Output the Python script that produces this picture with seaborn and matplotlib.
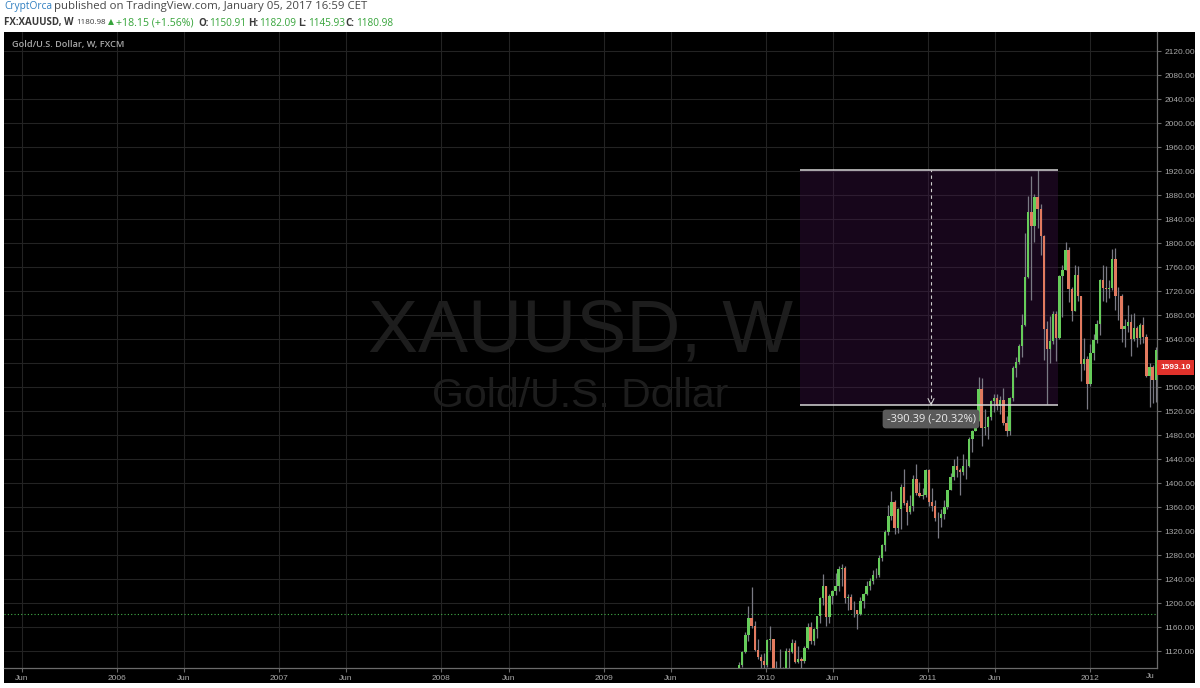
import pandas as pd
import seaborn as sns
import matplotlib.pyplot as plt
import matplotlib.dates as mdates
from matplotlib.patches import Rectangle

# weekly FX:XAUUSD candles, one per week starting 2009-11-02
first_week = '2009-11-02'
opens = [1046, 1096, 1118, 1146, 1175, 1162, 1121, 1110, 1104,
         1096, 1138, 1140, 1090, 1083, 1050, 1092, 1120, 1118, 1134, 1102, 1106, 1104,
         1125, 1160, 1136, 1157, 1179, 1209, 1228, 1176, 1212, 1220, 1228, 1256, 1258,
         1208, 1210, 1189, 1188, 1181, 1204, 1215, 1228, 1237, 1247, 1246, 1275, 1296,
         1318, 1345, 1369, 1325, 1357, 1394, 1366, 1352, 1362, 1406, 1384, 1378, 1380,
         1421, 1369, 1361, 1342, 1341, 1349, 1360, 1388, 1410, 1429, 1421, 1418, 1428,
         1429, 1474, 1486, 1503, 1556, 1491, 1493, 1510, 1536, 1542, 1529, 1539, 1500,
         1486, 1542, 1592, 1601, 1628, 1663, 1743, 1852, 1828, 1876, 1856, 1812, 1657,
         1623, 1636, 1682, 1642, 1745, 1755, 1788, 1724, 1686, 1746, 1711, 1598, 1606,
         1565, 1617, 1639, 1665, 1738, 1725, 1724, 1725, 1774, 1711, 1712, 1656, 1662,
         1669, 1640, 1659, 1642, 1663, 1644, 1579, 1593, 1572]
highs = [1101, 1120, 1152, 1195, 1227, 1170, 1140, 1115, 1116,
         1140, 1162, 1140, 1104, 1123, 1093, 1125, 1125, 1140, 1138, 1128, 1110, 1128,
         1166, 1169, 1158, 1179, 1210, 1249, 1229, 1215, 1221, 1250, 1261, 1265, 1262,
         1215, 1215, 1204, 1189, 1210, 1216, 1236, 1241, 1255, 1259, 1280, 1298, 1321,
         1364, 1387, 1371, 1359, 1398, 1424, 1372, 1380, 1414, 1432, 1401, 1392, 1424,
         1423, 1392, 1372, 1352, 1357, 1371, 1389, 1416, 1440, 1445, 1425, 1448, 1440,
         1476, 1489, 1510, 1577, 1575, 1523, 1512, 1539, 1549, 1549, 1545, 1559, 1512,
         1544, 1595, 1610, 1632, 1681, 1816, 1878, 1912, 1882, 1921, 1865, 1814, 1670,
         1679, 1687, 1686, 1747, 1764, 1802, 1793, 1726, 1764, 1762, 1712, 1641, 1612,
         1631, 1648, 1671, 1740, 1764, 1762, 1739, 1790, 1792, 1726, 1715, 1673, 1696,
         1682, 1683, 1661, 1667, 1676, 1648, 1600, 1597, 1627]
lows = [1043, 1094, 1116, 1137, 1159, 1120, 1107, 1075, 1088,
        1093, 1122, 1085, 1076, 1045, 1045, 1083, 1085, 1116, 1100, 1100, 1088, 1100,
        1123, 1131, 1130, 1141, 1166, 1197, 1161, 1166, 1199, 1213, 1220, 1228, 1200,
        1188, 1190, 1177, 1157, 1180, 1192, 1214, 1221, 1232, 1242, 1243, 1270, 1287,
        1314, 1339, 1315, 1316, 1324, 1363, 1330, 1349, 1353, 1380, 1377, 1374, 1376,
        1362, 1353, 1337, 1309, 1326, 1340, 1356, 1388, 1405, 1410, 1380, 1413, 1406,
        1426, 1452, 1486, 1503, 1462, 1480, 1474, 1505, 1518, 1522, 1515, 1497, 1478,
        1480, 1537, 1577, 1598, 1610, 1661, 1742, 1705, 1801, 1825, 1780, 1605, 1532,
        1600, 1631, 1603, 1640, 1677, 1755, 1702, 1670, 1686, 1703, 1570, 1589, 1523,
        1562, 1605, 1634, 1646, 1704, 1702, 1708, 1722, 1688, 1671, 1635, 1627, 1652,
        1612, 1636, 1627, 1632, 1633, 1577, 1527, 1533, 1535]
closes = [1096, 1118, 1146, 1175, 1162, 1121, 1110, 1104, 1096,
          1138, 1140, 1090, 1083, 1050, 1092, 1120, 1118, 1134, 1102, 1106, 1104, 1125,
          1160, 1136, 1157, 1179, 1209, 1228, 1176, 1212, 1220, 1228, 1256, 1258, 1208,
          1210, 1189, 1188, 1181, 1204, 1215, 1228, 1237, 1247, 1246, 1275, 1296, 1318,
          1345, 1369, 1325, 1357, 1394, 1366, 1352, 1362, 1406, 1384, 1378, 1380, 1421,
          1369, 1361, 1342, 1341, 1349, 1360, 1388, 1410, 1429, 1421, 1418, 1428, 1429,
          1474, 1486, 1503, 1556, 1491, 1493, 1510, 1536, 1542, 1529, 1539, 1500, 1486,
          1542, 1592, 1601, 1628, 1663, 1743, 1852, 1828, 1876, 1856, 1812, 1657, 1623,
          1636, 1682, 1642, 1745, 1755, 1788, 1724, 1686, 1746, 1711, 1598, 1606, 1565,
          1617, 1639, 1665, 1738, 1725, 1724, 1725, 1774, 1711, 1712, 1656, 1662, 1669,
          1640, 1659, 1642, 1663, 1644, 1579, 1593, 1572, 1622]

last_price = 1180.98
marked_price = 1593.10

# price range measurement drawn on the chart
measure_top = 1921.15
measure_bottom = 1530.76
measure_start = '2010-03-18'
measure_end = '2011-10-20'
measure_mid = '2011-01-08'
measure_text = '-390.39 (-20.32%)'

x_tick_dates = ['2005-06-01', '2006-01-01', '2006-06-01', '2007-01-01', '2007-06-01',
                '2008-01-01', '2008-06-01', '2009-01-01', '2009-06-01', '2010-01-01',
                '2010-06-01', '2011-01-01', '2011-06-01', '2012-01-01']
x_tick_labels = ['Jun', '2006', 'Jun', '2007', 'Jun', '2008', 'Jun', '2009', 'Jun',
                 '2010', 'Jun', '2011', 'Jun', '2012']
y_ticks = [1120, 1160, 1200, 1240, 1280, 1320, 1360, 1400, 1440, 1480, 1520, 1560,
           1600, 1640, 1680, 1720, 1760, 1800, 1840, 1880, 1920, 1960, 2000, 2040,
           2080, 2120]

df = pd.DataFrame({'open': opens, 'high': highs, 'low': lows, 'close': closes})
df['date'] = pd.date_range(first_week, periods=len(df), freq='7D')
df['x'] = mdates.date2num(df['date'])

sns.set_theme(style='dark', rc={'axes.facecolor': '#000000',
                                'figure.facecolor': '#ffffff',
                                'grid.color': '#232323',
                                'grid.linewidth': 0.8})
plt.rcParams['font.family'] = ['Open Sans', 'DejaVu Sans']

W, H = 1200, 688
fig = plt.figure(figsize=(12, 6.88), dpi=100)

# dark panel behind plot + axis strips
fig.patches.append(Rectangle((4 / W, 1 - 683 / H), 1191 / W, 651 / H,
                             transform=fig.transFigure, facecolor='#000000',
                             edgecolor='none', zorder=-5))

ax = fig.add_axes([4 / W, 1 - 668 / H, 1153 / W, 636 / H])
ax.set_zorder(2)
ax.set_facecolor('#000000')

# time scale: 2006-01-01 at px 117, 2012-01-01 at px 1090
x06 = mdates.date2num(pd.Timestamp('2006-01-01'))
x12 = mdates.date2num(pd.Timestamp('2012-01-01'))
ppd = (1090 - 117) / (x12 - x06)
ax.set_xlim(x12 - (1090 - 4) / ppd, x12 + (1157 - 1090) / ppd)
ax.set_ylim(1120 - 17 / 0.6, 1120 + 619 / 0.6)

ax.set_xticks(mdates.date2num(pd.to_datetime(x_tick_dates)))
ax.set_xticklabels(x_tick_labels)
ax.yaxis.tick_right()
ax.set_yticks(y_ticks)
# the 1600.00 label sits under the red price marker
ax.set_yticklabels(['' if v == 1600 else f'{v:.2f}' for v in y_ticks])
ax.tick_params(axis='both', colors='#6a6a6a', labelcolor='#a8a8a8', labelsize=6,
               length=3, width=0.8, pad=2, bottom=True, right=True)
ax.tick_params(axis='y', pad=2.5)
for lab in ax.get_xticklabels() + ax.get_yticklabels():
    lab.set_family(['Liberation Sans', 'DejaVu Sans'])
ax.grid(True, axis='both', color='#232323', lw=0.8, zorder=0)
for side in ['left', 'top']:
    ax.spines[side].set_visible(False)
for side in ['right', 'bottom']:
    ax.spines[side].set_color('#6a6a6a')
    ax.spines[side].set_linewidth(0.9)
ax.set_xlabel('')
ax.set_ylabel('')

# watermark
ax.text(0.5, 0.497, 'XAUUSD, W', transform=ax.transAxes, ha='center', va='baseline',
        fontsize=54, color='#1d1d1d', family=['Liberation Sans'], zorder=1)
ax.text(0.5, 0.410, 'Gold/U.S. Dollar', transform=ax.transAxes, ha='center',
        va='baseline', fontsize=29.5, color='#1d1d1d', family=['Liberation Sans'],
        zorder=1)

# measurement box
m0 = mdates.date2num(pd.Timestamp(measure_start))
m1 = mdates.date2num(pd.Timestamp(measure_end))
mm = mdates.date2num(pd.Timestamp(measure_mid))
ax.add_patch(Rectangle((m0, measure_bottom), m1 - m0, measure_top - measure_bottom,
                       facecolor='#3f1248', alpha=0.38, edgecolor='none', zorder=2))
ax.hlines([measure_top, measure_bottom], m0, m1, color='#d6d6d6', lw=1.1, zorder=5)
ax.vlines(mm, measure_bottom, measure_top, color='#d0d0d0', lw=0.8,
          linestyles=(0, (3, 3)), zorder=5)
ax.plot([mm - 3 / ppd, mm, mm + 3 / ppd],
        [measure_bottom + 6 / 0.6, measure_bottom, measure_bottom + 6 / 0.6],
        color='#d0d0d0', lw=0.8, zorder=5)
ax.text(mm, 1120 + (651 - 419) / 0.6, measure_text, ha='center', va='center',
        fontsize=8, color='#ececec', zorder=7,
        bbox=dict(boxstyle='round,pad=0.35,rounding_size=0.3', fc='#5a5a5a', ec='none'))

# current price line
ax.axhline(last_price, color='#43b049', lw=0.8, ls=(0, (1, 2)), zorder=3)

# candles
up = df[df['close'] >= df['open']]
down = df[df['close'] < df['open']]
ax.vlines(df['x'], df['low'], df['high'], color='#7a7a84', lw=0.9, zorder=4)
ax.bar(up['x'], up['close'] - up['open'], bottom=up['open'], width=5.4,
       color='#66cc5a', linewidth=0, zorder=4.5)
ax.bar(down['x'], down['open'] - down['close'], bottom=down['close'], width=5.4,
       color='#e27a5f', linewidth=0, zorder=4.5)

# clipped last date label at the right edge
ax.text((1150 - 4) / 1153, -(676 - 668) / 636, 'Ju', transform=ax.transAxes,
        ha='center', va='center', fontsize=6, color='#a8a8a8',
        family=['Liberation Sans'], clip_on=False)

# red price label on the scale
yt = ax.get_yaxis_transform()
ax.add_patch(Rectangle((1.0, marked_price - 7.5 / 0.6), 37 / 1153, 15 / 0.6,
                       transform=yt, facecolor='#e0322b', edgecolor='none',
                       clip_on=False, zorder=8))
ax.text(1.0 + 19 / 1153, marked_price, f'{marked_price:.2f}', transform=yt,
        ha='center', va='center', fontsize=6, color='white', fontweight='bold',
        family=['Liberation Sans'], clip_on=False, zorder=9)

ax.text(8 / 1153, (668 - 45) / 636, 'Gold/U.S. Dollar, W, FXCM', transform=ax.transAxes,
        ha='left', va='center', fontsize=6.6, color='#a8a8a8', fontweight='semibold')


def hdr(px, py, s, color='#3a3a3a', bold=False, size=7):
    fig.text(px / W, 1 - py / H, s, ha='left', va='center', fontsize=size,
             color=color, fontweight='bold' if bold else 'normal',
             family=['Open Sans', 'DejaVu Sans'])


green = '#36a43a'
hdr(4, 7, 'CryptOrca', color='#2f7ec0', size=7.3)
hdr(54, 7, 'published on TradingView.com, January 05, 2017 16:59 CET',
    color='#474747', size=8.2)
hdr(4, 23, 'FX:XAUUSD, W', bold=True)
hdr(76, 23, '1180.98', size=5.8)
hdr(108, 23, '\u25B2', color=green, size=5.6)
hdr(116, 23, '+18.15 (+1.56%)', color=green, size=7.6)
hdr(198, 23, 'O:', bold=True)
hdr(209, 23, '1150.91', color=green, size=7.2)
hdr(248, 23, 'H:', bold=True)
hdr(259, 23, '1182.09', color=green, size=7.2)
hdr(298, 23, 'L:', bold=True)
hdr(308, 23, '1145.93', color=green, size=7.2)
hdr(345, 23, 'C:', bold=True)
hdr(356, 23, '1180.98', color=green, size=7.2)

fig.savefig('out.png', dpi=100)
plt.close(fig)
